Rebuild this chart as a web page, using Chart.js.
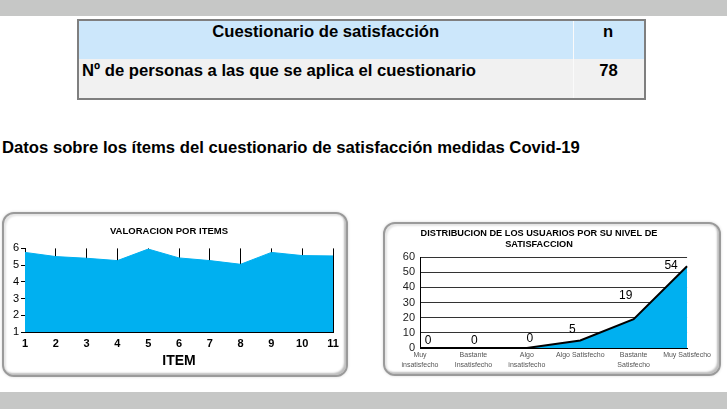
<!DOCTYPE html>
<html>
<head>
<meta charset="utf-8">
<script src="https://cdn.jsdelivr.net/npm/chart.js@4/dist/chart.umd.min.js"></script>
<style>
  body { margin: 0; width: 727px; height: 409px; background: #fff; overflow: hidden; position: relative; font-family: Arial, "Liberation Sans", sans-serif; }
  .bar { position: absolute; left: 0; width: 727px; background: #c6c7c6; }
  #table { position: absolute; left: 77px; top: 19px; width: 565px; height: 77px; border: 2px solid #7f7f7f; }
  .cell { position: absolute; font-weight: bold; font-size: 17px; color: #000; white-space: nowrap; }
  .sq { display: inline-block; transform: scaleX(0.98); transform-origin: left center; }
  #heading { position: absolute; left: 2px; top: 138px; font-weight: bold; font-size: 17px; white-space: nowrap; }
  .panel { position: absolute; border: 2px solid #9a9a9a; border-radius: 12px; background: #fff;
           box-shadow: inset -2px -2px 2px #bdbdbd, inset 2px 2px 2px #e4e4e4, 0 0 3px #d8d8d8; }
  canvas { position: absolute; }
</style>
</head>
<body>
<div class="bar" style="top:0;height:16px"></div>
<div class="bar" style="top:392px;height:17px"></div>

<div id="table">
  <div style="position:absolute;left:0;top:0;width:565px;height:38px;background:#cce7fb"></div>
  <div style="position:absolute;left:0;top:38px;width:565px;height:39px;background:#f1f1f1"></div>
  <div style="position:absolute;left:494px;top:0;width:1px;height:77px;background:#fafafa"></div>
  <div class="cell" style="left:0;width:494px;top:1px;text-align:center"><span class="sq" style="transform-origin:center">Cuestionario de satisfacción</span></div>
  <div class="cell" style="left:494px;width:71px;top:1px;text-align:center"><span class="sq" style="transform-origin:center">n</span></div>
  <div class="cell" style="left:3px;top:40px"><span class="sq">Nº de personas a las que se aplica el cuestionario</span></div>
  <div class="cell" style="left:494px;width:71px;top:40px;text-align:center"><span class="sq" style="transform-origin:center">78</span></div>
</div>

<div id="heading"><span class="sq">Datos sobre los ítems del cuestionario de satisfacción medidas Covid-19</span></div>

<div class="panel" style="left:2px;top:212px;width:342px;height:161px"></div>
<canvas id="itemsChart" style="left:5px;top:216px" width="340" height="157"></canvas>

<div class="panel" style="left:383px;top:222px;width:334px;height:150px"></div>
<canvas id="distChart" style="left:386px;top:224px" width="328" height="148"></canvas>

<script>
Chart.defaults.font.family = 'Arial, "Liberation Sans", sans-serif';
Chart.defaults.color = '#000';

// Valoracion por items
const itemLabels = ['1', '2', '3', '4', '5', '6', '7', '8', '9', '10', '11'];
const itemScores = [5.76, 5.51, 5.41, 5.27, 5.96, 5.43, 5.27, 5.05, 5.76, 5.57, 5.55];

// Distribucion por nivel de satisfaccion
const levelLabels = [
    ['Muy', 'insatisfecho'],
    ['Bastante', 'Insatisfecho'],
    ['Algo', 'insatisfecho'],
    'Algo Satisfecho',
    ['Bastante', 'Satisfecho'],
    'Muy Satisfecho'
];
const levelUsers = [0, 0, 0, 5, 19, 54];

const fillBlue = '#00b0f0';

new Chart(document.getElementById('itemsChart'), {
    type: 'line',
    data: {
        labels: itemLabels,
        datasets: [{
            data: itemScores,
            fill: 'start',
            backgroundColor: fillBlue,
            borderColor: fillBlue,
            borderWidth: 1,
            pointRadius: 0,
            tension: 0
        }]
    },
    options: {
        responsive: false,
        animation: false,
        layout: { padding: { left: 0, right: 12, top: 0, bottom: 0 } },
        plugins: {
            legend: { display: false },
            tooltip: { enabled: false },
            title: {
                display: true,
                text: 'VALORACION POR ITEMS',
                font: { size: 9.5, weight: 'bold' },
                padding: { top: 10, bottom: 11 }
            }
        },
        scales: {
            x: {
                offset: false,
                grid: { color: '#000', lineWidth: 1, drawTicks: false },
                border: { display: true, color: '#000', width: 1 },
                ticks: { font: { size: 11, weight: 'bold' }, padding: 5, maxRotation: 0 },
                title: { display: true, text: 'ITEM', font: { size: 14, weight: 'bold' }, padding: { top: 2, bottom: 3 } },
                afterFit(scale) { scale.height = 41; }
            },
            y: {
                min: 1,
                max: 6,
                ticks: { stepSize: 1, font: { size: 11 }, padding: 2, autoSkip: false },
                grid: { drawOnChartArea: false, tickLength: 4, color: '#000' },
                border: { display: true, color: '#000', width: 1 },
                afterFit(scale) { scale.width = 20; }
            }
        }
    }
});

// labels for the points, drawn near each value
const labelOffsets = [[8, -7], [1, -7], [3, -9], [-8, -11], [-8, -24], [-16, 0]];
const pointLabels = {
    id: 'pointLabels',
    afterDatasetsDraw(chart) {
        const ctx = chart.ctx;
        const meta = chart.getDatasetMeta(0);
        ctx.save();
        ctx.font = '12px Arial, "Liberation Sans", sans-serif';
        ctx.fillStyle = '#000';
        ctx.textAlign = 'center';
        ctx.textBaseline = 'middle';
        meta.data.forEach((pt, i) => {
            const off = labelOffsets[i];
            ctx.fillText(String(levelUsers[i]), pt.x + off[0], pt.y + off[1]);
        });
        ctx.restore();
    }
};

new Chart(document.getElementById('distChart'), {
    type: 'line',
    data: {
        labels: levelLabels,
        datasets: [{
            data: levelUsers,
            fill: 'origin',
            backgroundColor: fillBlue,
            borderColor: '#000',
            borderWidth: 2,
            pointRadius: 0,
            tension: 0
        }]
    },
    plugins: [pointLabels],
    options: {
        responsive: false,
        animation: false,
        layout: { padding: { left: 0, right: 22, top: 0, bottom: 0 } },
        plugins: {
            legend: { display: false },
            tooltip: { enabled: false },
            title: {
                display: true,
                text: ['DISTRIBUCION DE LOS USUARIOS POR SU NIVEL DE', 'SATISFACCION'],
                font: { size: 9.2, weight: 'bold', lineHeight: 1.2 },
                padding: { top: 4, bottom: 7 }
            }
        },
        scales: {
            x: {
                offset: false,
                grid: { display: false, drawTicks: false },
                border: { display: true, color: '#000', width: 1 },
                ticks: { font: { size: 7, lineHeight: 1.3 }, color: '#555', padding: 3, maxRotation: 0, autoSkip: false },
                afterFit(scale) { scale.height = 24; }
            },
            y: {
                min: 0,
                max: 60,
                ticks: { stepSize: 10, font: { size: 11 }, color: '#222', padding: 5, autoSkip: false },
                grid: { color: '#333', lineWidth: 1, drawTicks: false },
                border: { display: true, color: '#000', width: 1 },
                afterFit(scale) { scale.width = 34; }
            }
        }
    }
});
</script>
</body>
</html>
